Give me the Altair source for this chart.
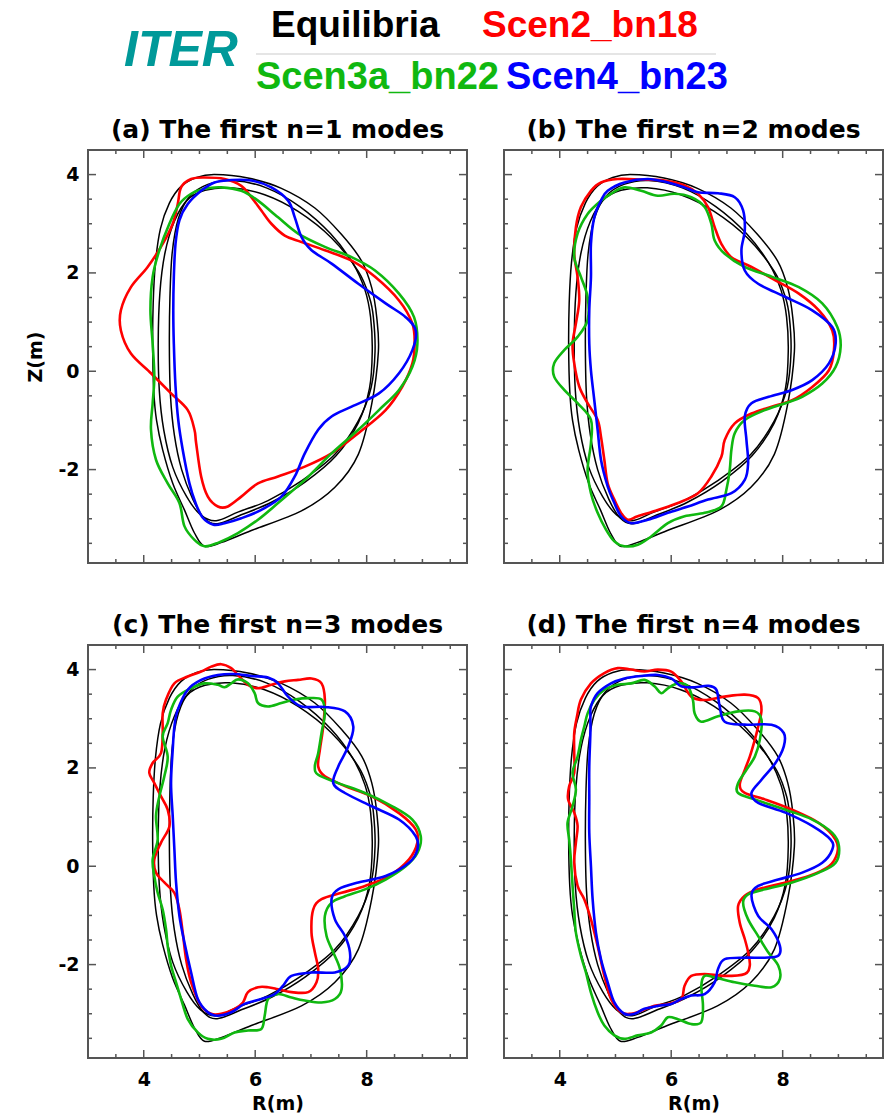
import altair as alt
import pandas as pd

# ---------------- data (R, Z in metres) ----------------
SERIES = ["Scen2_bn18", "Scen3a_bn22", "Scen4_bn23"]
COLORS = ["#ff0000", "#10b810", "#0000ff"]
LEGEND_LABELS = ["Equilibria", "Scen2_bn18", "Scen3a_bn22", "Scen4_bn23"]
PANEL_TITLES = ["(a) The first n=1 modes", "(b) The first n=2 modes",
                "(c) The first n=3 modes", "(d) The first n=4 modes"]

X_LABELS = [4, 6, 8]
X_MINOR = [3.5, 4.5, 5, 5.5, 6.5, 7, 7.5, 8.5, 9, 9.5]
Y_LABELS = [-2, 0, 2, 4]
Y_MINOR = [-3.5, -3, -2.5, -1.5, -1, -0.5, 0.5, 1, 1.5, 2.5, 3, 3.5]

EQ_A = [(8.21, 0.4), (8.18, 1.1), (8.09, 1.7), (7.91, 2.24), (7.55, 2.78), (7.07, 3.32),
        (6.47, 3.72), (5.87, 3.93), (5.27, 4.0), (4.95, 3.94), (4.67, 3.76), (4.46, 3.42),
        (4.3, 2.9), (4.21, 2.2), (4.17, 1.4), (4.16, 0.5), (4.18, -0.4), (4.23, -1.0),
        (4.34, -1.6), (4.52, -2.28), (4.73, -2.82), (4.91, -3.29), (5.09, -3.56),
        (5.4, -3.48), (5.93, -3.24), (6.83, -2.84), (7.43, -2.36), (7.85, -1.69), (8.09, -0.67)]
EQ_B = [(8.15, 0.4), (8.12, 1.1), (8.05, 1.5), (7.85, 2.03), (7.37, 2.71), (6.77, 3.25),
        (6.17, 3.59), (5.57, 3.73), (5.1, 3.68), (4.78, 3.48), (4.55, 3.05), (4.38, 2.4),
        (4.29, 1.6), (4.26, 0.6), (4.28, -0.4), (4.36, -1.2), (4.52, -1.95), (4.77, -2.55),
        (5.02, -2.92), (5.3, -3.04), (5.7, -2.86), (6.23, -2.63), (6.83, -2.23),
        (7.43, -1.69), (7.85, -1.01), (8.08, -0.33)]
EQ_C = [(8.1, 0.4), (8.07, 1.1), (7.97, 1.65), (7.75, 2.2), (7.35, 2.8), (6.8, 3.35),
        (6.2, 3.73), (5.6, 3.88), (5.15, 3.8), (4.82, 3.55), (4.62, 3.1), (4.51, 2.4),
        (4.47, 1.5), (4.46, 0.5), (4.48, -0.5), (4.55, -1.3), (4.68, -2.0), (4.88, -2.6),
        (5.08, -2.98), (5.32, -3.1), (5.75, -2.92), (6.3, -2.66), (6.9, -2.25),
        (7.45, -1.72), (7.85, -1.05), (8.05, -0.35)]

# panel (a): n=1
A_RED = [(5.09, 3.94), (5.45, 3.91), (5.75, 3.77), (5.93, 3.54), (6.11, 3.27), (6.29, 3.0),
         (6.53, 2.76), (6.83, 2.63), (7.25, 2.46), (7.73, 2.25), (8.15, 1.92), (8.58, 1.44),
         (8.82, 0.97), (8.86, 0.56), (8.82, 0.16), (8.64, -0.31), (8.34, -0.79), (7.85, -1.26),
         (7.37, -1.67), (6.89, -1.94), (6.41, -2.14), (6.05, -2.28), (5.75, -2.55),
         (5.51, -2.75), (5.33, -2.75), (5.15, -2.55), (5.03, -2.14), (4.94, -1.46),
         (4.91, -1.19), (4.79, -0.79), (4.49, -0.45), (4.13, -0.04), (3.77, 0.36),
         (3.59, 0.83), (3.59, 1.24), (3.77, 1.71), (4.07, 2.12), (4.34, 2.59), (4.52, 3.0),
         (4.61, 3.40), (4.67, 3.74), (4.85, 3.91)]
A_GREEN = [(5.39, 3.74), (5.75, 3.67), (6.05, 3.47), (6.41, 3.13), (6.77, 2.80), (7.25, 2.53),
           (7.73, 2.32), (8.15, 2.05), (8.58, 1.58), (8.85, 1.10), (8.91, 0.56), (8.82, 0.09),
           (8.58, -0.38), (8.22, -0.79), (7.85, -1.19), (7.37, -1.67), (6.89, -2.21),
           (6.41, -2.68), (6.05, -3.02), (5.69, -3.29), (5.33, -3.49), (5.09, -3.56),
           (4.91, -3.43), (4.73, -3.15), (4.64, -2.68), (4.43, -2.28), (4.22, -1.80),
           (4.13, -1.19), (4.16, -0.65), (4.19, -0.11), (4.16, 0.56), (4.12, 1.24),
           (4.16, 1.92), (4.28, 2.46), (4.46, 3.0), (4.64, 3.40), (4.85, 3.61), (5.09, 3.71)]
A_BLUE = [(5.57, 3.89), (5.93, 3.88), (6.29, 3.74), (6.59, 3.47), (6.71, 3.13), (6.83, 2.73),
          (7.01, 2.46), (7.37, 2.19), (7.85, 1.78), (8.34, 1.38), (8.70, 1.10), (8.88, 0.83),
          (8.82, 0.43), (8.58, -0.04), (8.22, -0.45), (7.73, -0.72), (7.37, -0.92),
          (7.13, -1.19), (6.89, -1.67), (6.71, -2.14), (6.47, -2.55), (6.11, -2.82),
          (5.75, -2.99), (5.45, -3.09), (5.25, -3.12), (5.06, -2.98), (4.93, -2.68),
          (4.82, -2.28), (4.70, -1.60), (4.62, -1.0), (4.57, -0.3), (4.54, 0.56),
          (4.53, 1.24), (4.54, 1.92), (4.57, 2.59), (4.64, 3.07), (4.79, 3.40), (5.03, 3.67),
          (5.27, 3.84)]

# panel (b): n=2
B_RED = [(4.74, 3.84), (5.04, 3.91), (5.46, 3.90), (5.88, 3.88), (6.24, 3.78), (6.48, 3.61),
         (6.66, 3.34), (6.78, 2.93), (6.90, 2.59), (7.08, 2.32), (7.44, 2.12), (7.87, 1.85),
         (8.29, 1.58), (8.65, 1.24), (8.89, 0.83), (8.92, 0.43), (8.83, 0.02), (8.53, -0.32),
         (8.17, -0.59), (7.80, -0.72), (7.44, -0.86), (7.14, -1.06), (6.96, -1.40),
         (6.90, -1.74), (6.72, -2.14), (6.48, -2.48), (6.12, -2.68), (5.76, -2.82),
         (5.40, -2.95), (5.22, -3.02), (5.10, -2.88), (4.98, -2.61), (4.86, -2.28),
         (4.80, -1.80), (4.74, -1.33), (4.68, -0.99), (4.50, -0.65), (4.35, -0.31),
         (4.26, 0.16), (4.23, 0.56), (4.29, 0.97), (4.35, 1.44), (4.32, 1.92), (4.26, 2.39),
         (4.29, 2.93), (4.38, 3.34), (4.56, 3.67)]
B_GREEN = [(5.16, 3.74), (5.46, 3.67), (5.76, 3.57), (6.06, 3.61), (6.36, 3.54), (6.60, 3.34),
           (6.72, 3.0), (6.78, 2.66), (6.96, 2.39), (7.32, 2.12), (7.81, 1.92), (8.29, 1.71),
           (8.71, 1.38), (8.98, 0.90), (9.04, 0.50), (8.95, 0.09), (8.71, -0.25),
           (8.35, -0.52), (8.05, -0.65), (7.68, -0.79), (7.32, -0.99), (7.14, -1.26),
           (7.08, -1.60), (7.05, -2.01), (6.99, -2.41), (6.90, -2.75), (6.60, -2.88),
           (6.24, -2.95), (5.94, -3.09), (5.64, -3.36), (5.40, -3.53), (5.16, -3.56),
           (4.98, -3.46), (4.83, -3.22), (4.68, -2.88), (4.56, -2.48), (4.50, -2.01),
           (4.56, -1.46), (4.56, -0.99), (4.32, -0.65), (4.08, -0.38), (3.90, -0.11),
           (3.90, 0.16), (4.08, 0.43), (4.32, 0.70), (4.50, 1.04), (4.50, 1.51), (4.38, 1.92),
           (4.26, 2.32), (4.32, 2.80), (4.50, 3.20), (4.74, 3.47), (4.92, 3.61)]
B_BLUE = [(4.86, 3.67), (5.16, 3.84), (5.58, 3.91), (5.94, 3.84), (6.24, 3.74), (6.48, 3.64),
          (6.84, 3.62), (7.14, 3.54), (7.29, 3.27), (7.32, 2.86), (7.26, 2.46), (7.32, 2.05),
          (7.56, 1.78), (8.05, 1.51), (8.53, 1.24), (8.89, 0.90), (8.95, 0.56), (8.83, 0.16),
          (8.53, -0.18), (8.17, -0.38), (7.75, -0.52), (7.44, -0.65), (7.32, -0.92),
          (7.35, -1.40), (7.38, -1.87), (7.32, -2.21), (7.08, -2.48), (6.66, -2.61),
          (6.30, -2.75), (5.94, -2.88), (5.58, -3.02), (5.28, -3.09), (5.10, -2.95),
          (4.98, -2.68), (4.86, -2.34), (4.74, -1.80), (4.68, -1.19), (4.62, -0.59),
          (4.56, 0.02), (4.53, 0.56), (4.53, 1.24), (4.56, 1.92), (4.56, 2.59), (4.62, 3.13),
          (4.74, 3.47)]

# panel (c): n=3
C_RED = [(4.55, 3.72), (4.79, 3.86), (5.03, 3.96), (5.21, 4.06), (5.39, 4.11), (5.57, 4.03),
         (5.69, 3.89), (5.87, 3.69), (6.05, 3.62), (6.29, 3.69), (6.53, 3.76), (6.77, 3.79),
         (7.01, 3.82), (7.19, 3.72), (7.25, 3.39), (7.22, 2.84), (7.16, 2.37), (7.13, 2.03),
         (7.25, 1.83), (7.61, 1.63), (8.09, 1.42), (8.58, 1.08), (8.88, 0.75), (8.91, 0.48),
         (8.76, 0.14), (8.40, -0.20), (7.97, -0.40), (7.55, -0.54), (7.19, -0.67),
         (7.04, -0.88), (7.01, -1.35), (7.07, -1.75), (7.13, -2.09), (7.10, -2.36),
         (6.95, -2.56), (6.65, -2.56), (6.41, -2.50), (6.23, -2.46), (6.05, -2.46),
         (5.87, -2.56), (5.78, -2.77), (5.63, -2.90), (5.39, -3.0), (5.21, -3.0),
         (5.03, -2.84), (4.85, -2.36), (4.76, -1.89), (4.70, -1.35), (4.64, -0.88),
         (4.55, -0.54), (4.37, -0.33), (4.22, -0.13), (4.19, 0.14), (4.31, 0.48),
         (4.46, 0.81), (4.43, 1.15), (4.31, 1.42), (4.19, 1.69), (4.10, 1.90), (4.16, 2.10),
         (4.31, 2.30), (4.34, 2.71), (4.34, 3.11), (4.40, 3.39)]
C_GREEN = [(4.61, 3.45), (4.85, 3.62), (5.09, 3.72), (5.33, 3.69), (5.45, 3.64), (5.57, 3.72),
           (5.69, 3.80), (5.87, 3.72), (5.99, 3.52), (6.05, 3.32), (6.23, 3.25), (6.47, 3.32),
           (6.71, 3.39), (6.95, 3.42), (7.19, 3.39), (7.25, 3.11), (7.19, 2.71), (7.13, 2.30),
           (7.07, 2.03), (7.13, 1.86), (7.49, 1.69), (7.97, 1.49), (8.46, 1.22), (8.82, 0.95),
           (8.97, 0.61), (8.91, 0.27), (8.70, 0.0), (8.34, -0.27), (7.97, -0.47),
           (7.61, -0.61), (7.37, -0.74), (7.25, -1.01), (7.28, -1.42), (7.40, -1.75),
           (7.52, -2.09), (7.55, -2.50), (7.43, -2.70), (7.19, -2.77), (6.89, -2.73),
           (6.65, -2.67), (6.41, -2.60), (6.23, -2.70), (6.17, -3.04), (6.11, -3.31),
           (5.87, -3.34), (5.63, -3.38), (5.39, -3.51), (5.15, -3.51), (4.97, -3.38),
           (4.79, -3.11), (4.67, -2.70), (4.58, -2.36), (4.49, -2.02), (4.43, -1.62),
           (4.40, -1.28), (4.34, -0.88), (4.25, -0.54), (4.19, -0.20), (4.16, 0.14),
           (4.25, 0.54), (4.22, 1.02), (4.28, 1.42), (4.37, 1.83), (4.43, 2.23), (4.34, 2.64),
           (4.43, 2.91), (4.49, 3.18)]
C_BLUE = [(4.79, 3.59), (5.03, 3.79), (5.33, 3.89), (5.63, 3.91), (5.93, 3.87), (6.23, 3.84),
          (6.41, 3.72), (6.59, 3.45), (6.83, 3.25), (7.25, 3.24), (7.61, 3.15), (7.76, 2.84),
          (7.67, 2.44), (7.49, 2.03), (7.40, 1.69), (7.61, 1.49), (8.09, 1.22), (8.58, 0.95),
          (8.88, 0.61), (8.91, 0.34), (8.76, 0.07), (8.34, -0.20), (7.85, -0.33),
          (7.49, -0.47), (7.37, -0.67), (7.43, -1.08), (7.61, -1.42), (7.70, -1.75),
          (7.67, -2.02), (7.43, -2.16), (7.01, -2.16), (6.65, -2.23), (6.50, -2.43),
          (6.35, -2.60), (6.11, -2.70), (5.81, -2.80), (5.57, -2.97), (5.33, -3.04),
          (5.15, -2.97), (4.97, -2.70), (4.85, -2.16), (4.73, -1.55), (4.64, -1.01),
          (4.58, -0.33), (4.55, 0.34), (4.52, 1.02), (4.49, 1.69), (4.52, 2.37), (4.55, 2.84),
          (4.61, 3.18)]

# panel (d): n=4
D_RED = [(4.38, 3.39), (4.56, 3.72), (4.80, 3.93), (5.04, 4.03), (5.28, 4.0), (5.52, 3.96),
         (5.76, 4.0), (6.0, 3.96), (6.18, 3.76), (6.36, 3.45), (6.60, 3.38), (6.96, 3.45),
         (7.32, 3.49), (7.56, 3.42), (7.62, 3.18), (7.56, 2.84), (7.50, 2.57), (7.41, 2.23),
         (7.32, 1.96), (7.23, 1.66), (7.32, 1.49), (7.68, 1.36), (8.17, 1.15), (8.65, 0.88),
         (8.95, 0.54), (8.98, 0.27), (8.83, 0.0), (8.47, -0.20), (8.05, -0.33),
         (7.56, -0.47), (7.32, -0.60), (7.20, -0.81), (7.23, -1.15), (7.32, -1.48),
         (7.38, -1.75), (7.41, -2.02), (7.32, -2.19), (6.96, -2.23), (6.60, -2.19),
         (6.36, -2.23), (6.24, -2.43), (6.18, -2.70), (5.94, -2.80), (5.70, -2.84),
         (5.46, -2.94), (5.28, -3.0), (5.10, -2.97), (4.92, -2.70), (4.80, -2.23),
         (4.68, -1.62), (4.56, -1.08), (4.44, -0.67), (4.32, -0.40), (4.26, 0.07),
         (4.29, 0.48), (4.32, 0.82), (4.26, 1.09), (4.15, 1.36), (4.17, 1.63), (4.26, 1.90),
         (4.26, 2.30), (4.26, 2.71), (4.31, 3.05)]
D_GREEN = [(4.50, 3.11), (4.62, 3.38), (4.80, 3.59), (5.04, 3.69), (5.28, 3.72), (5.52, 3.79),
           (5.70, 3.66), (5.82, 3.52), (5.94, 3.62), (6.12, 3.72), (6.30, 3.66), (6.39, 3.38),
           (6.42, 3.11), (6.54, 2.94), (6.84, 3.05), (7.20, 3.15), (7.50, 3.15), (7.62, 2.98),
           (7.59, 2.57), (7.50, 2.23), (7.35, 1.96), (7.20, 1.69), (7.20, 1.49), (7.50, 1.36),
           (8.05, 1.15), (8.53, 0.95), (8.89, 0.68), (9.01, 0.41), (8.95, 0.07),
           (8.65, -0.13), (8.17, -0.33), (7.68, -0.47), (7.38, -0.57), (7.29, -0.74),
           (7.38, -1.08), (7.56, -1.42), (7.74, -1.75), (7.92, -2.02), (7.95, -2.29),
           (7.80, -2.46), (7.50, -2.43), (7.14, -2.36), (6.78, -2.26), (6.60, -2.23),
           (6.54, -2.43), (6.57, -2.84), (6.54, -3.17), (6.36, -3.21), (6.12, -3.11),
           (5.94, -3.07), (5.82, -3.24), (5.64, -3.38), (5.40, -3.44), (5.16, -3.51),
           (4.98, -3.44), (4.80, -3.24), (4.68, -2.97), (4.56, -2.57), (4.47, -2.16),
           (4.38, -1.82), (4.29, -1.35), (4.26, -0.88), (4.23, -0.40), (4.20, 0.14),
           (4.17, 0.54), (4.14, 0.88), (4.23, 1.22), (4.29, 1.56), (4.23, 1.90), (4.32, 2.23),
           (4.38, 2.57), (4.44, 2.84)]
D_BLUE = [(4.56, 3.25), (4.68, 3.52), (4.92, 3.72), (5.16, 3.82), (5.46, 3.87), (5.76, 3.89),
          (6.0, 3.82), (6.18, 3.66), (6.42, 3.64), (6.66, 3.67), (6.81, 3.59), (6.87, 3.25),
          (6.96, 2.94), (7.32, 2.88), (7.80, 2.88), (8.02, 2.71), (8.02, 2.44), (7.87, 2.10),
          (7.62, 1.76), (7.44, 1.49), (7.56, 1.29), (8.05, 1.09), (8.53, 0.82), (8.86, 0.54),
          (8.89, 0.34), (8.71, 0.07), (8.35, -0.13), (7.92, -0.27), (7.56, -0.40),
          (7.44, -0.60), (7.56, -1.01), (7.80, -1.28), (7.95, -1.62), (7.92, -1.82),
          (7.68, -1.86), (7.32, -1.86), (6.96, -1.89), (6.84, -2.09), (6.78, -2.36),
          (6.60, -2.60), (6.36, -2.63), (6.18, -2.70), (6.0, -2.80), (5.76, -2.84),
          (5.52, -2.90), (5.34, -3.0), (5.16, -3.0), (4.98, -2.77), (4.86, -2.36),
          (4.74, -1.89), (4.65, -1.35), (4.59, -0.67), (4.56, 0.0), (4.53, 0.68),
          (4.53, 1.36), (4.53, 2.03), (4.55, 2.71), (4.55, 3.05)]

PANEL_CURVES = {
    "a": [A_RED, A_GREEN, A_BLUE],
    "b": [B_RED, B_GREEN, B_BLUE],
    "c": [C_RED, C_GREEN, C_BLUE],
    "d": [D_RED, D_GREEN, D_BLUE],
}
EQUILIBRIA = [EQ_A, EQ_B, EQ_C]

# ---------------- style / layout ----------------
W, H = 379, 413
FRAME = "#555555"
FONT = "DejaVu Sans"
MAJ, MIN = 8, 4
X0, Y0 = 87, 149          # page position of panel (a) plot origin

xs = alt.Scale(domain=[3, 9.8], nice=False, zero=False)
ys = alt.Scale(domain=[-3.9, 4.5], nice=False, zero=False)


def table(curves, names):
    rows = []
    for name, pts in zip(names, curves):
        for i, (r, z) in enumerate(pts):
            rows.append({"curve": name, "series": name.split("#")[0], "i": i, "R": r, "Z": z})
    return pd.DataFrame(rows)


def tick_layers(xaxis, yaxis):
    layers = []
    for vals, L in ((X_LABELS, MAJ), (X_MINOR, MIN)):
        b = alt.Chart(pd.DataFrame({"v": vals})).mark_rule(color=FRAME, strokeWidth=1.5)
        xe = alt.X("v:Q", scale=xs, axis=xaxis)
        layers.append(b.encode(x=xe, y=alt.value(0), y2=alt.value(L)))
        layers.append(b.encode(x=xe, y=alt.value(H), y2=alt.value(H - L)))
    for vals, L in ((Y_LABELS, MAJ), (Y_MINOR, MIN)):
        b = alt.Chart(pd.DataFrame({"v": vals})).mark_rule(color=FRAME, strokeWidth=1.5)
        ye = alt.Y("v:Q", scale=ys, axis=yaxis)
        layers.append(b.encode(y=ye, x=alt.value(0), x2=alt.value(L)))
        layers.append(b.encode(y=ye, x=alt.value(W), x2=alt.value(W - L)))
    return layers


def htext(label, x, y, color, size, italic=False, align="left"):
    # x, y: page coordinates, converted to panel (a) coordinates
    return alt.Chart(pd.DataFrame({"t": [label]})).mark_text(
        align=align, baseline="alphabetic", font="Liberation Sans", fontSize=size,
        fontWeight="bold", fontStyle="italic" if italic else "normal", color=color
    ).encode(x=alt.value(x - X0), y=alt.value(y - Y0), text="t:N")


def header_layers():
    sep = alt.Chart(pd.DataFrame({"t": [0]})).mark_rule(color="#dddddd", strokeWidth=1.5).encode(
        x=alt.value(255 - X0), x2=alt.value(715 - X0), y=alt.value(53 - Y0))
    guide = alt.Chart(pd.DataFrame({"t": [0]})).mark_rule(color="#ffffff", strokeWidth=0.5).encode(
        x=alt.value(-X0 + 0.5), x2=alt.value(-X0 + 1), y=alt.value(-Y0 + 0.5))
    return [
        guide,
        htext("ITER", 180, 65, "#009999", 50, italic=True, align="center"),
        htext(LEGEND_LABELS[0], 270, 36, "#000000", 37),
        htext(LEGEND_LABELS[1], 481, 36, "#ff0000", 37),
        sep,
        htext(LEGEND_LABELS[2], 255, 88, "#10b810", 38),
        htext(LEGEND_LABELS[3], 505, 88, "#0000ff", 38),
    ]


def panel(key, title, left, bottom, ytitle_visible, extra=()):
    xaxis = None
    yaxis = None
    if bottom:
        xaxis = alt.Axis(values=X_LABELS, title="R(m)", ticks=False, domain=False, grid=False,
                         labelPadding=12, titlePadding=5, labelExpr="'' + datum.value")
    if left:
        yaxis = alt.Axis(values=Y_LABELS, title="Z(m)", ticks=False, domain=False, grid=False,
                         labelPadding=9, titlePadding=12, labelExpr="'' + datum.value",
                         titleOpacity=1 if ytitle_visible else 0)
    eq = table(EQUILIBRIA, ["eq#1", "eq#2", "eq#3"])
    col = table(PANEL_CURVES[key], [s + "#" for s in SERIES])
    black = alt.Chart(eq).mark_line(interpolate="cardinal-closed", color="black",
                                    strokeWidth=1.5).encode(
        x=alt.X("R:Q", scale=xs, axis=xaxis),
        y=alt.Y("Z:Q", scale=ys, axis=yaxis),
        detail="curve:N", order="i:Q")
    colored = alt.Chart(col).mark_line(interpolate="cardinal-closed", strokeWidth=2.6).encode(
        x=alt.X("R:Q", scale=xs, axis=xaxis),
        y=alt.Y("Z:Q", scale=ys, axis=yaxis),
        color=alt.Color("series:N", scale=alt.Scale(domain=SERIES, range=COLORS), legend=None),
        detail="curve:N", order="i:Q")
    ttl = alt.Chart(pd.DataFrame({"t": [title]})).mark_text(
        align="center", baseline="alphabetic", font=FONT, fontSize=25, fontWeight="bold",
        color="black").encode(x=alt.value(W / 2), y=alt.value(-12), text="t:N")
    return alt.layer(black, colored, *tick_layers(xaxis, yaxis), ttl, *extra).properties(
        width=W, height=H)


pa = panel("a", PANEL_TITLES[0], True, False, True, extra=header_layers())
pb = panel("b", PANEL_TITLES[1], False, False, False)
pc = panel("c", PANEL_TITLES[2], True, True, False)
pd_ = panel("d", PANEL_TITLES[3], False, True, False)

chart = alt.concat(pa, pb, pc, pd_, columns=2, spacing={"row": 82, "column": 37},
                   bounds="flush").properties(
    padding={"left": 0, "top": 0, "right": 0, "bottom": 0}
).configure_view(stroke=FRAME, strokeWidth=2).configure_axis(
    labelFont=FONT, labelFontWeight="bold", labelFontSize=19, labelColor="black",
    titleFont=FONT, titleFontWeight="bold", titleFontSize=19, titleColor="black"
)

chart.save("out.html", embed_options={"renderer": "svg", "actions": False})
